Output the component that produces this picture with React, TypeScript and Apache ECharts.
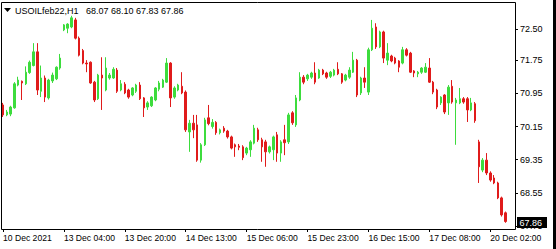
import React, { useEffect, useRef } from "react";
import * as echarts from "echarts";

// Each bar: [open, close, low, high]
const bars10Dec: number[][] = [
  [70.67, 70.43, 70.38, 70.72],
  [70.43, 70.5, 70.4, 70.55],
  [70.45, 70.62, 70.4, 70.65],
  [70.6, 71.18, 70.58, 71.22],
  [71.15, 71.27, 71.12, 71.35],
  [71.24, 71.2, 70.79, 71.26],
  [71.18, 71.46, 71.15, 71.6],
  [71.45, 71.7, 71.42, 71.74],
  [71.62, 71.95, 71.6, 72.16],
  [71.95, 71.03, 70.91, 72.16],
  [71.0, 71.32, 70.86, 71.62],
  [71.32, 70.86, 70.74, 71.38],
  [70.84, 71.27, 70.8, 71.3],
  [71.25, 71.39, 71.2, 71.45],
  [71.3, 71.58, 71.27, 71.6],
  [71.56, 71.8, 71.52, 71.9],
];

const bars13Dec: number[][] = [
  [72.48, 72.6, 72.45, 72.62],
  [72.52, 72.62, 72.4, 72.64],
  [72.55, 72.77, 72.52, 72.82],
  [72.72, 72.28, 72.25, 72.77],
  [72.28, 71.87, 71.84, 72.32],
  [71.98, 71.68, 71.65, 72.02],
  [71.68, 71.66, 71.46, 71.75],
  [71.7, 71.2, 71.18, 71.72],
  [71.22, 70.79, 70.74, 71.25],
  [70.82, 71.39, 70.79, 71.42],
  [71.39, 71.32, 70.55, 71.82],
  [71.03, 71.56, 71.0, 71.82],
  [71.32, 71.39, 71.28, 71.44],
  [71.32, 71.53, 71.3, 71.58],
  [71.51, 71.0, 70.96, 71.56],
  [71.03, 71.18, 71.0, 71.27],
  [71.17, 70.96, 70.93, 71.22],
  [71.03, 70.86, 70.82, 71.06],
  [70.91, 71.08, 70.88, 71.1],
  [71.0, 71.15, 70.96, 71.18],
  [71.15, 70.82, 70.79, 71.22],
  [70.84, 70.6, 70.38, 70.86],
  [70.62, 70.72, 70.55, 70.76],
  [70.65, 70.86, 70.62, 70.88],
];

const bars14Dec: number[][] = [
  [70.79, 71.08, 70.76, 71.1],
  [71.05, 71.2, 71.0, 71.25],
  [71.1, 71.27, 71.08, 71.3],
  [71.22, 71.68, 71.2, 71.8],
  [71.68, 70.84, 70.62, 71.7],
  [70.86, 71.08, 70.82, 71.12],
  [71.03, 71.15, 71.0, 71.18],
  [71.12, 70.96, 70.93, 71.46],
  [70.98, 70.07, 70.02, 71.02],
  [70.02, 70.23, 69.54, 70.31],
  [70.23, 70.07, 69.87, 70.43],
  [70.19, 69.34, 69.3, 70.43],
  [69.34, 69.71, 69.28, 69.75],
  [69.71, 70.31, 69.68, 70.36],
  [70.36, 70.22, 70.18, 70.67],
  [70.15, 70.25, 70.1, 70.33],
  [70.25, 70.0, 69.95, 70.28],
  [70.0, 70.07, 69.96, 70.1],
  [70.11, 70.04, 70.0, 70.16],
  [70.04, 69.9, 69.86, 70.07],
  [69.9, 69.63, 69.6, 69.93],
  [69.71, 69.66, 69.42, 69.74],
  [69.68, 69.65, 69.58, 69.73],
  [69.66, 69.4, 69.34, 69.7],
];

const bars15Dec: number[][] = [
  [69.51, 69.63, 69.46, 69.66],
  [69.59, 69.78, 69.42, 69.82],
  [69.75, 70.11, 69.72, 70.19],
  [70.07, 69.83, 69.78, 70.12],
  [69.83, 69.66, 69.3, 69.88],
  [69.78, 69.54, 69.18, 69.83],
  [69.54, 69.66, 69.5, 69.69],
  [69.59, 69.9, 69.34, 69.93],
  [69.95, 69.51, 69.3, 70.02],
  [69.51, 69.78, 69.3, 69.82],
  [69.83, 69.76, 69.46, 70.19],
  [69.78, 70.43, 69.73, 70.48],
  [70.48, 70.24, 70.19, 70.52],
  [70.19, 70.84, 70.14, 70.91],
  [70.79, 71.34, 70.76, 71.46],
  [71.34, 71.22, 71.17, 71.39],
  [71.3, 71.39, 71.25, 71.42],
  [71.34, 71.44, 71.3, 71.47],
  [71.44, 71.22, 71.17, 71.7],
  [71.32, 71.51, 71.3, 71.54],
  [71.51, 71.42, 71.39, 71.54],
  [71.44, 71.34, 71.3, 71.47],
  [71.36, 71.46, 71.32, 71.49],
  [71.39, 71.51, 71.36, 71.54],
];

const bars16Dec: number[][] = [
  [71.53, 71.42, 71.39, 71.7],
  [71.42, 71.22, 71.18, 71.44],
  [71.27, 71.39, 71.24, 71.42],
  [71.34, 71.51, 71.3, 71.58],
  [71.46, 71.75, 71.44, 71.95],
  [71.75, 70.91, 70.86, 71.78],
  [70.96, 71.32, 70.91, 71.35],
  [71.32, 71.22, 71.08, 71.58],
  [70.98, 72.0, 70.91, 72.05],
  [72.0, 72.52, 71.97, 72.72],
  [72.55, 72.07, 72.02, 72.64],
  [72.07, 72.43, 72.04, 72.46],
  [72.43, 71.8, 71.68, 72.46],
  [71.75, 71.92, 71.63, 72.16],
  [71.85, 71.73, 71.7, 71.88],
  [71.8, 71.68, 71.65, 71.83],
  [71.73, 71.58, 71.46, 71.75],
  [71.68, 72.0, 71.65, 72.07],
  [72.0, 71.87, 71.84, 72.04],
  [71.92, 71.46, 71.44, 71.95],
  [71.49, 71.44, 71.34, 71.51],
  [71.42, 71.46, 71.34, 71.49],
  [71.46, 71.56, 71.42, 71.58],
  [71.46, 71.58, 71.44, 71.68],
];

const bars17Dec: number[][] = [
  [71.56, 71.22, 71.2, 71.8],
  [71.22, 70.98, 70.93, 71.25],
  [71.03, 70.62, 70.57, 71.06],
  [70.72, 70.86, 70.67, 70.88],
  [70.91, 70.5, 70.45, 70.93],
  [70.72, 71.1, 70.43, 71.15],
  [71.12, 70.74, 70.7, 71.27],
  [70.72, 70.79, 69.71, 70.84],
  [70.72, 70.82, 70.69, 71.08],
  [70.82, 70.74, 70.7, 70.86],
  [70.82, 70.55, 70.26, 70.86],
  [70.55, 70.72, 70.52, 70.84],
  [70.7, 70.29, 70.24, 70.74],
];

const bars20Dec: number[][] = [
  [69.78, 69.18, 68.79, 69.83],
  [69.1, 69.34, 69.05, 69.39],
  [69.34, 69.03, 68.98, 69.51],
  [69.03, 68.86, 68.82, 69.07],
  [68.91, 68.79, 68.76, 68.98],
  [68.79, 68.43, 68.4, 68.82],
  [68.43, 68.02, 67.98, 68.46],
  [68.07, 67.86, 67.83, 68.1],
];

const tickIndex = [0, 16, 32, 48, 64, 80, 96, 112, 128];
const tickLabels = [
  "10 Dec 2021",
  "13 Dec 04:00",
  "13 Dec 20:00",
  "14 Dec 13:00",
  "15 Dec 06:00",
  "15 Dec 23:00",
  "16 Dec 15:00",
  "17 Dec 08:00",
  "20 Dec 02:00",
];
const yTicks = [67.75, 68.55, 69.35, 70.15, 70.95, 71.75, 72.5];
const symbolTitle = "USOILfeb22,H1";
const lastOHLC = [68.07, 68.1, 67.83, 67.86];
const emptyBarsRight = 2;

const FONT = '"Liberation Sans", Arial, sans-serif';

export default function App() {
  const ref = useRef<HTMLDivElement>(null);
  useEffect(() => {
    const chart = echarts.init(ref.current!, null, { renderer: "svg" });
    const candles = [
      ...bars10Dec,
      ...bars13Dec,
      ...bars14Dec,
      ...bars15Dec,
      ...bars16Dec,
      ...bars17Dec,
      ...bars20Dec,
    ];
    const n = candles.length + emptyBarsRight;
    const cats = Array.from({ length: n }, (_, i) => String(i));
    const up = "#3ddc3d";
    const down = "#e01b1b";
    chart.setOption({
      animation: false,
      backgroundColor: "#ffffff",
      grid: { left: 0, right: 41, top: 2.5, bottom: 20 },
      xAxis: {
        type: "category",
        data: cats,
        boundaryGap: true,
        axisLine: { show: false },
        axisTick: {
          show: true,
          alignWithLabel: true,
          length: 3,
          interval: (i: number) => tickIndex.includes(i),
          lineStyle: { color: "#000" },
        },
        axisLabel: {
          interval: (i: number) => tickIndex.includes(i),
          formatter: (_v: string, i: number) => {
            const k = tickIndex.indexOf(i);
            return k >= 0 ? tickLabels[k] : "";
          },
          align: "left",
          margin: 4,
          fontSize: 8.6,
          fontFamily: FONT,
          color: "#000",
        },
        splitLine: { show: false },
      },
      yAxis: {
        type: "value",
        position: "right",
        min: 67.68,
        max: 73.14,
        scale: true,
        axisLine: { show: false },
        axisTick: {
          show: true,
          length: 3,
          customValues: yTicks,
          lineStyle: { color: "#000" },
        },
        axisLabel: {
          customValues: yTicks,
          formatter: (v: number) => v.toFixed(2),
          margin: 5,
          fontSize: 9,
          fontFamily: FONT,
          color: "#000",
        },
        splitLine: { show: false },
      },
      series: [
        {
          type: "candlestick",
          data: candles,
          barWidth: 2,
          itemStyle: {
            color: up,
            color0: down,
            borderColor: up,
            borderColor0: down,
            borderColorDoji: down,
            borderWidth: 1,
          },
        },
      ],
      graphic: [
        {
          type: "rect",
          z: 100,
          shape: { x: 1.5, y: 2.5, width: 514, height: 227 },
          style: { fill: "none", stroke: "#000", lineWidth: 1 },
        },
        {
          type: "rect",
          z: 100,
          shape: { x: 553, y: 0, width: 3, height: 249 },
          style: { fill: "#000" },
        },
        {
          type: "polygon",
          z: 100,
          shape: { points: [[4, 8], [11, 8], [7.5, 12]] },
          style: { fill: "#000" },
        },
        {
          type: "text",
          z: 100,
          x: 15,
          y: 10.5,
          style: {
            text: symbolTitle,
            fontSize: 9,
            fontFamily: FONT,
            fill: "#000",
            verticalAlign: "middle",
            textVerticalAlign: "middle",
          },
        },
        {
          type: "text",
          z: 100,
          x: 86,
          y: 10.5,
          style: {
            text: lastOHLC.map((v) => v.toFixed(2)).join(" "),
            fontSize: 9,
            fontFamily: FONT,
            fill: "#000",
            verticalAlign: "middle",
            textVerticalAlign: "middle",
          },
        },
        {
          type: "rect",
          z: 100,
          shape: { x: 517, y: 217, width: 30, height: 11 },
          style: { fill: "#000" },
        },
        {
          type: "text",
          z: 101,
          x: 519.5,
          y: 222.5,
          style: {
            text: lastOHLC[3].toFixed(2),
            fontSize: 9,
            fontFamily: FONT,
            fill: "#fff",
            verticalAlign: "middle",
            textVerticalAlign: "middle",
          },
        },
      ],
    });
    return () => chart.dispose();
  }, []);
  return (
    <div
      ref={ref}
      style={{ position: "fixed", left: 0, top: 0, width: 556, height: 249 }}
    />
  );
}
